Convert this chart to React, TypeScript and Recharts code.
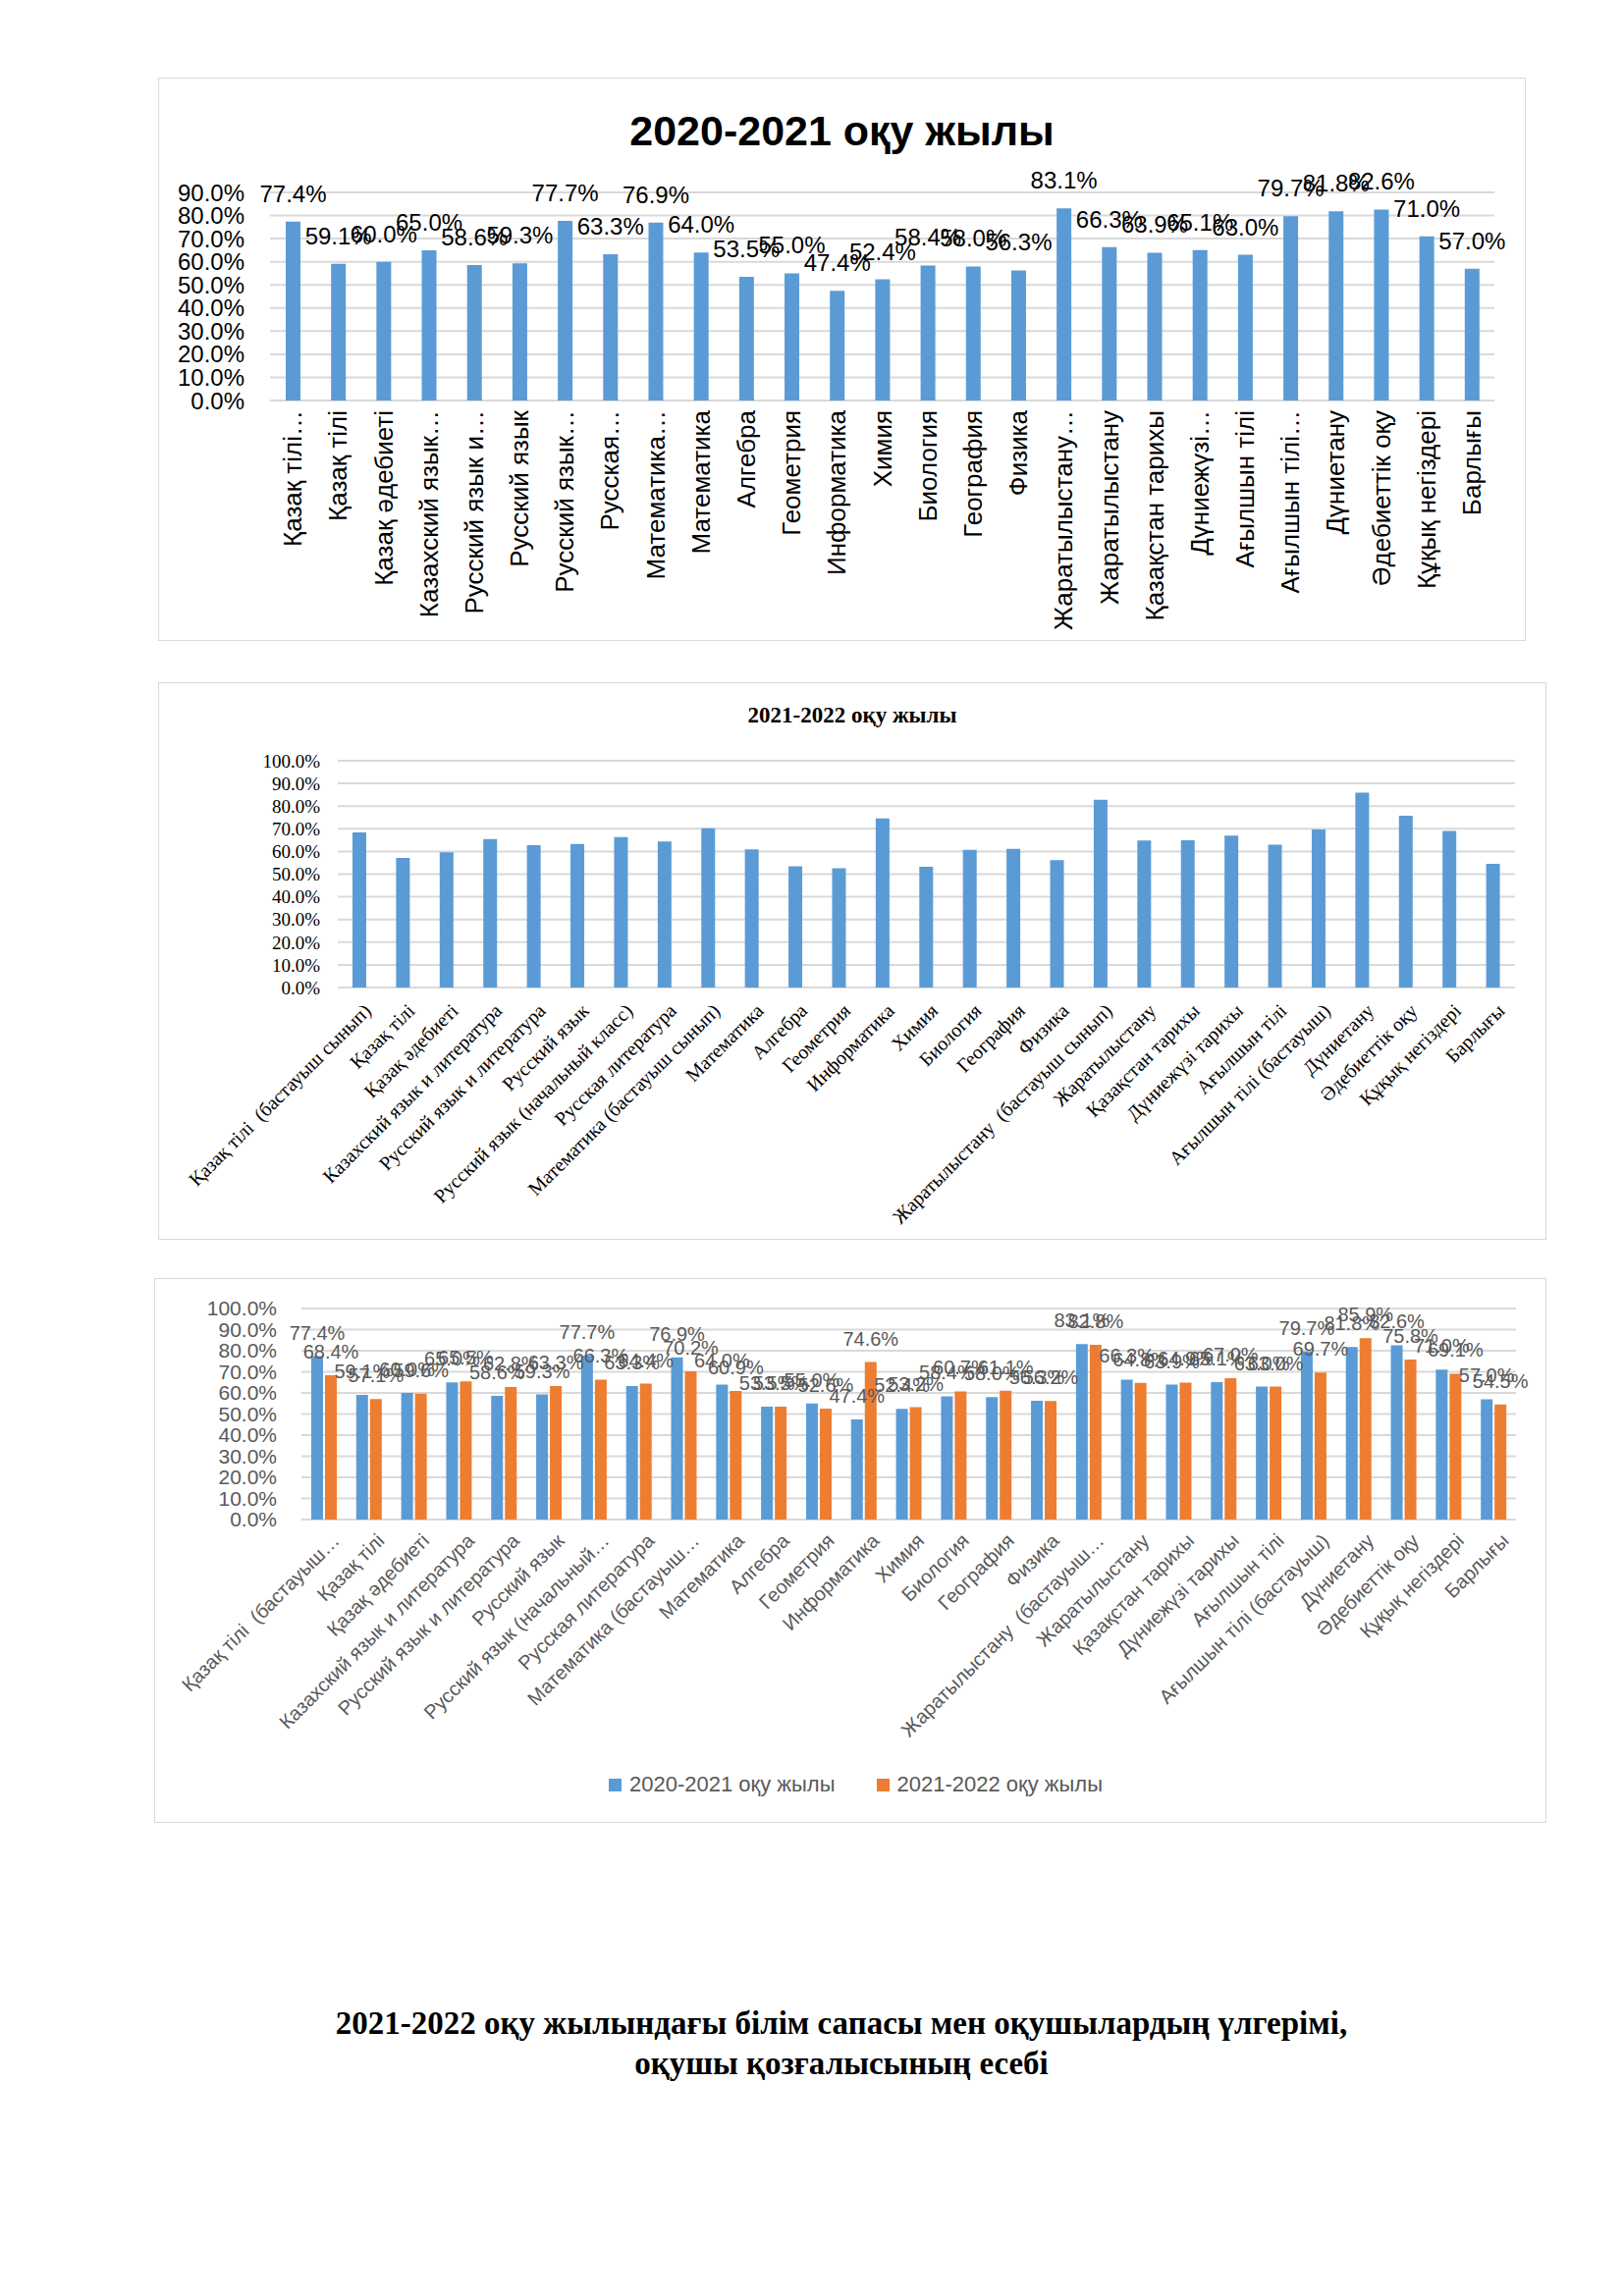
import React from 'react';
import { BarChart, Bar, XAxis, YAxis, CartesianGrid, LabelList, Legend } from 'recharts';

const SANS = "'Liberation Sans', Arial, sans-serif";
const SERIF = "'Liberation Serif', 'Times New Roman', serif";

const subjects = [
    'Қазақ тілі  (бастауыш сынып)',
    'Қазақ тілі',
    'Қазақ әдебиеті',
    'Казахский язык и литература',
    'Русский язык и литература',
    'Русский язык',
    'Русский язык (начальный класс)',
    'Русская литература',
    'Математика (бастауыш сынып)',
    'Математика',
    'Алгебра',
    'Геометрия',
    'Информатика',
    'Химия',
    'Биология',
    'География',
    'Физика',
    'Жаратылыстану  (бастауыш сынып)',
    'Жаратылыстану',
    'Қазақстан тарихы',
    'Дүниежүзі тарихы',
    'Ағылшын тілі',
    'Ағылшын тілі (бастауыш)',
    'Дүниетану',
    'Әдебиеттік оқу',
    'Құқық негіздері',
    'Барлығы',
];

// tick labels as shown (cut) on the first chart
const ticksFirst = [
    'Қазақ тілі…', 'Қазақ тілі', 'Қазақ әдебиеті', 'Казахский язык…', 'Русский язык и…',
    'Русский язык', 'Русский язык…', 'Русская…', 'Математика…', 'Математика',
    'Алгебра', 'Геометрия', 'Информатика', 'Химия', 'Биология', 'География', 'Физика',
    'Жаратылыстану…', 'Жаратылыстану', 'Қазақстан тарихы', 'Дүниежүзі…', 'Ағылшын тілі',
    'Ағылшын тілі…', 'Дүниетану', 'Әдебиеттік оқу', 'Құқық негіздері', 'Барлығы',
];

// tick labels as shown (cut) on the comparison chart
const ticksCompare = [
    'Қазақ тілі  (бастауыш…', 'Қазақ тілі', 'Қазақ әдебиеті', 'Казахский язык и литература',
    'Русский язык и литература', 'Русский язык', 'Русский язык (начальный…', 'Русская литература',
    'Математика (бастауыш…', 'Математика', 'Алгебра', 'Геометрия', 'Информатика', 'Химия',
    'Биология', 'География', 'Физика', 'Жаратылыстану  (бастауыш…', 'Жаратылыстану',
    'Қазақстан тарихы', 'Дүниежүзі тарихы', 'Ағылшын тілі', 'Ағылшын тілі (бастауыш)',
    'Дүниетану', 'Әдебиеттік оқу', 'Құқық негіздері', 'Барлығы',
];

const year2021 = [
    77.4, 59.1, 60.0, 65.0, 58.6, 59.3, 77.7, 63.3, 76.9, 64.0, 53.5, 55.0, 47.4, 52.4,
    58.4, 58.0, 56.3, 83.1, 66.3, 63.9, 65.1, 63.0, 79.7, 81.8, 82.6, 71.0, 57.0,
];
const year2022 = [
    68.4, 57.1, 59.6, 65.5, 62.8, 63.3, 66.3, 64.4, 70.2, 60.9, 53.5, 52.6, 74.6, 53.2,
    60.7, 61.1, 56.2, 82.8, 64.8, 64.9, 67.0, 63.0, 69.7, 85.9, 75.8, 69.1, 54.5,
];

const seriesNames = ['2020-2021 оқу жылы', '2021-2022 оқу жылы'];
const ticks90 = [0, 10, 20, 30, 40, 50, 60, 70, 80, 90];
const ticks100 = [0, 10, 20, 30, 40, 50, 60, 70, 80, 90, 100];

const data = subjects.map((s, i) => ({
    subject: s,
    y2021: year2021[i],
    y2022: year2022[i],
}));

const pct = (v: any) => `${Number(v).toFixed(1)}%`;

const BLUE = '#5b9bd5';
const ORANGE = '#ed7d31';
const GRID = '#d9d9d9';
const GREY_TEXT = '#595959';

const Box = ({ left, top, width, height, children }: any) => (
    <div style={{ position: 'absolute', left, top, width, height }}>
        <div
            style={{
                position: 'absolute', left: 0, top: 0, width, height,
                border: '1px solid ' + GRID, boxSizing: 'border-box',
            }}
        />
        {children}
    </div>
);

const VerticalTick = (props: any) => {
    const { x, y, index } = props;
    return (
        <g transform={`translate(${x},${y + 8}) rotate(-90)`}>
            <text textAnchor="end" dy="0.35em" fontSize={26} fill="#000" fontFamily={SANS}>
                {ticksFirst[index]}
            </text>
        </g>
    );
};

const SerifTick = (props: any) => {
    const { x, y, payload } = props;
    return (
        <g transform={`translate(${x + 8},${y + 18}) rotate(-45)`}>
            <text
                textAnchor="end"
                dy="0.35em"
                fontSize={20}
                fill="#000"
                fontFamily={SERIF}
                style={{ whiteSpace: 'pre' }}
            >
                {payload.value}
            </text>
        </g>
    );
};

const GreyTick = (props: any) => {
    const { x, y, index } = props;
    return (
        <g transform={`translate(${x + 12},${y + 16}) rotate(-45)`}>
            <text
                textAnchor="end"
                dy="0.35em"
                fontSize={20}
                fill={GREY_TEXT}
                fontFamily={SANS}
                style={{ whiteSpace: 'pre' }}
            >
                {ticksCompare[index]}
            </text>
        </g>
    );
};

const CompareLegend = () => (
    <div
        style={{
            display: 'flex', justifyContent: 'center', alignItems: 'center', height: 26,
            paddingLeft: 42, fontFamily: SANS, fontSize: 22, color: GREY_TEXT,
        }}
    >
        {seriesNames.map((n, i) => (
            <div key={n} style={{ display: 'flex', alignItems: 'center', marginRight: i === 0 ? 42 : 0 }}>
                <span style={{ width: 13, height: 13, background: i === 0 ? BLUE : ORANGE, marginRight: 8 }} />
                <span>{n}</span>
            </div>
        ))}
    </div>
);

export default function App() {
    return (
        <div style={{ position: 'absolute', left: 0, top: 0, width: 1654, height: 2339, background: '#fff' }}>
            {/* 2020-2021 */}
            <Box left={161} top={79} width={1393} height={574}>
                <div
                    style={{
                        position: 'absolute', left: 0, width: 1393, top: 33, textAlign: 'center',
                        fontFamily: SANS, fontWeight: 'bold', fontSize: 43, lineHeight: '43px',
                    }}
                >
                    {seriesNames[0]}
                </div>
                <div style={{ position: 'absolute', left: 0, top: 0 }}>
                    <BarChart width={1393} height={574} data={data} margin={{ top: 117, right: 32, left: 0, bottom: 0 }}>
                        <CartesianGrid vertical={false} stroke={GRID} strokeWidth={2} />
                        <XAxis
                            dataKey="subject"
                            interval={0}
                            height={245}
                            axisLine={false}
                            tickLine={false}
                            tickSize={0}
                            tick={(p: any) => <VerticalTick {...p} />}
                        />
                        <YAxis
                            domain={[0, 90]}
                            ticks={ticks90}
                            interval={0}
                            width={114}
                            axisLine={false}
                            tickLine={false}
                            tickMargin={20}
                            tickFormatter={pct}
                            tick={{ fontSize: 24, fill: '#000', fontFamily: SANS }}
                        />
                        <Bar dataKey="y2021" fill={BLUE} barSize={15} isAnimationActive={false}>
                            <LabelList
                                dataKey="y2021"
                                position="top"
                                offset={20}
                                formatter={pct}
                                fontSize={24}
                                fill="#000"
                                fontFamily={SANS}
                            />
                        </Bar>
                    </BarChart>
                </div>
            </Box>

            {/* 2021-2022 */}
            <Box left={161} top={695} width={1414} height={568}>
                <div
                    style={{
                        position: 'absolute', left: 0, width: 1414, top: 22, textAlign: 'center',
                        fontFamily: SERIF, fontWeight: 'bold', fontSize: 23, lineHeight: '23px',
                    }}
                >
                    {seriesNames[1]}
                </div>
                <div style={{ position: 'absolute', left: 0, top: 0 }}>
                    <BarChart width={1414} height={568} data={data} margin={{ top: 80, right: 32, left: 0, bottom: 0 }}>
                        <CartesianGrid vertical={false} stroke={GRID} strokeWidth={2} />
                        <XAxis
                            dataKey="subject"
                            interval={0}
                            height={257}
                            axisLine={false}
                            tickLine={false}
                            tickSize={0}
                            tick={(p: any) => <SerifTick {...p} />}
                        />
                        <YAxis
                            domain={[0, 100]}
                            ticks={ticks100}
                            interval={0}
                            width={183}
                            axisLine={false}
                            tickLine={false}
                            tickMargin={12}
                            tickFormatter={pct}
                            tick={{ fontSize: 19, fill: '#000', fontFamily: SERIF }}
                        />
                        <Bar dataKey="y2022" fill={BLUE} barSize={14} isAnimationActive={false} />
                    </BarChart>
                </div>
            </Box>

            {/* comparison */}
            <Box left={157} top={1302} width={1418} height={555}>
                <div style={{ position: 'absolute', left: 0, top: 0 }}>
                    <BarChart
                        width={1418}
                        height={555}
                        data={data}
                        barGap={2}
                        margin={{ top: 31, right: 31, left: 0, bottom: 26 }}
                    >
                        <CartesianGrid vertical={false} stroke={GRID} strokeWidth={2} />
                        <XAxis
                            dataKey="subject"
                            interval={0}
                            height={257}
                            axisLine={false}
                            tickLine={false}
                            tickSize={0}
                            tick={(p: any) => <GreyTick {...p} />}
                        />
                        <YAxis
                            domain={[0, 100]}
                            ticks={ticks100}
                            interval={0}
                            width={150}
                            axisLine={false}
                            tickLine={false}
                            tickMargin={19}
                            tickFormatter={pct}
                            tick={{ fontSize: 21, fill: GREY_TEXT, fontFamily: SANS }}
                        />
                        <Legend
                            verticalAlign="bottom"
                            height={26}
                            wrapperStyle={{ height: 26 }}
                            content={() => <CompareLegend />}
                        />
                        <Bar dataKey="y2021" name={seriesNames[0]} fill={BLUE} barSize={12} isAnimationActive={false}>
                            <LabelList
                                dataKey="y2021"
                                position="top"
                                offset={17}
                                formatter={pct}
                                fontSize={20}
                                fill={GREY_TEXT}
                                fontFamily={SANS}
                            />
                        </Bar>
                        <Bar dataKey="y2022" name={seriesNames[1]} fill={ORANGE} barSize={12} isAnimationActive={false}>
                            <LabelList
                                dataKey="y2022"
                                position="top"
                                offset={17}
                                formatter={pct}
                                fontSize={20}
                                fill={GREY_TEXT}
                                fontFamily={SANS}
                            />
                        </Bar>
                    </BarChart>
                </div>
            </Box>

            <div
                style={{
                    position: 'absolute', left: 0, width: 1714, top: 2041, textAlign: 'center',
                    fontFamily: SERIF, fontWeight: 'bold', fontSize: 33, lineHeight: '41px', color: '#000',
                }}
            >
                <div>2021-2022 оқу жылындағы білім сапасы мен оқушылардың үлгерімі,</div>
                <div>оқушы қозғалысының есебі</div>
            </div>
        </div>
    );
}
